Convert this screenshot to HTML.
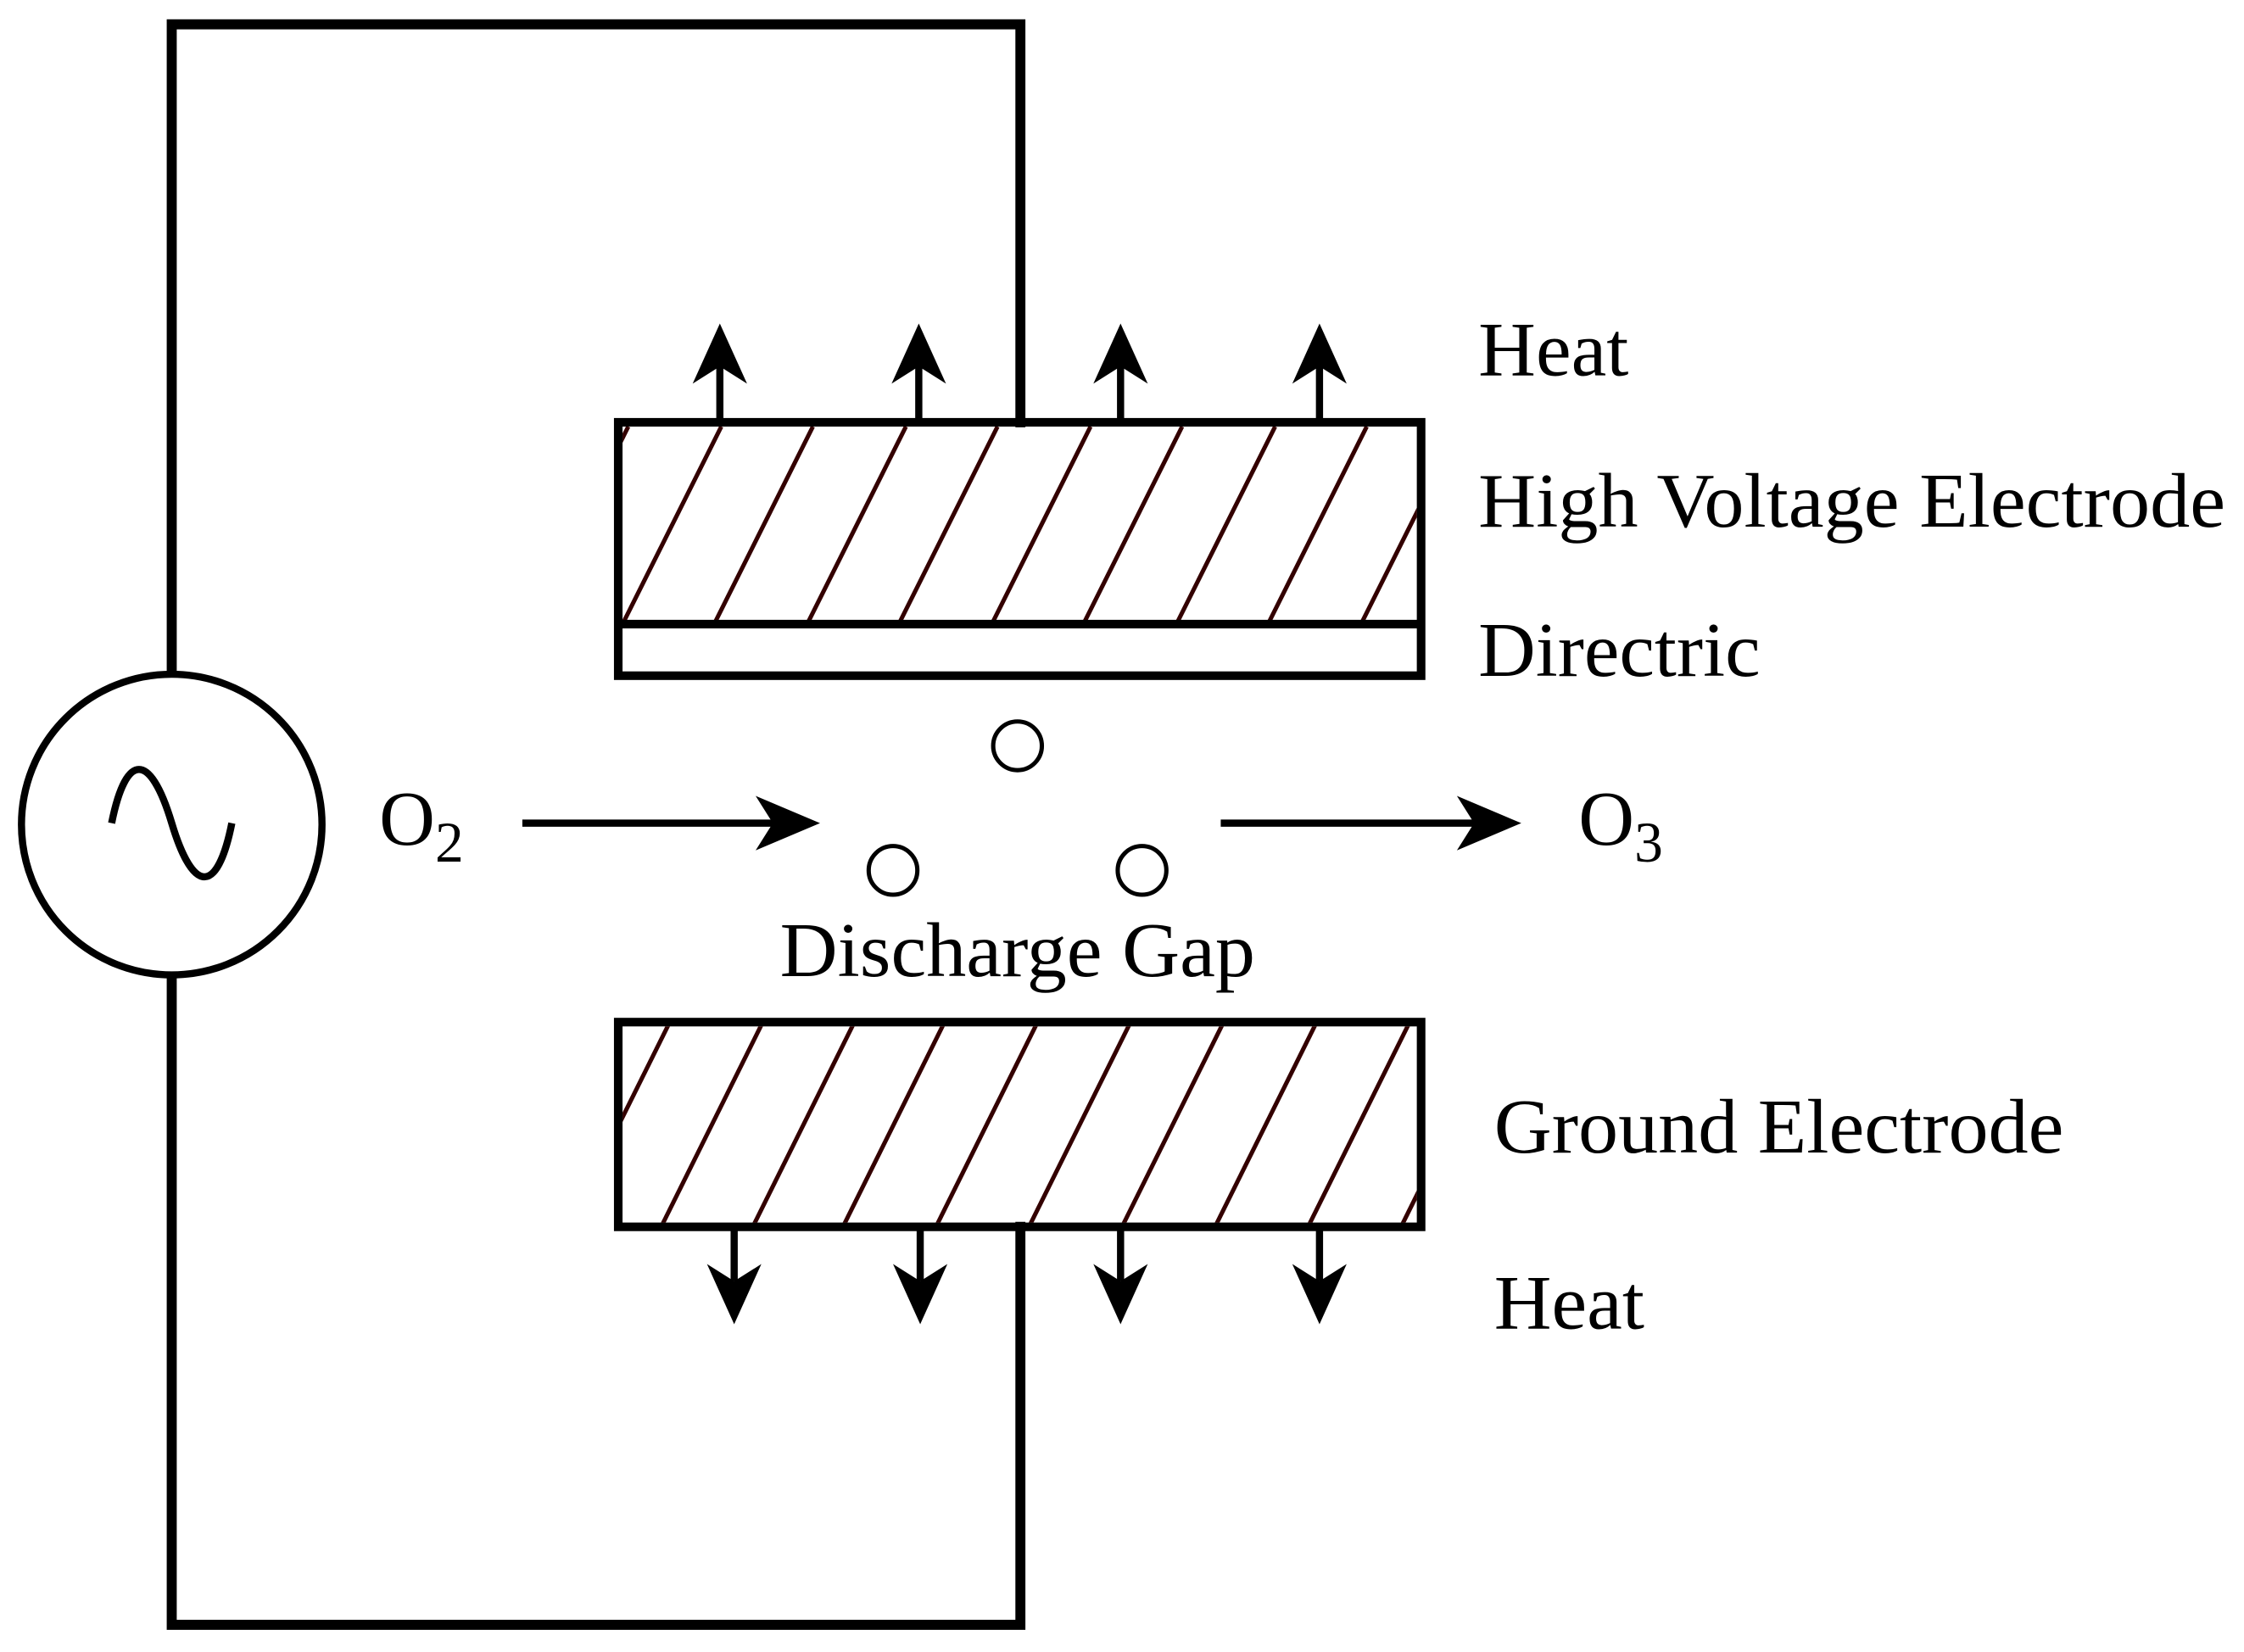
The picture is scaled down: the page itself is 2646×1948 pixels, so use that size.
<!DOCTYPE html>
<html><head><meta charset="utf-8"><style>
html,body{margin:0;padding:0;background:#fff;}
svg{display:block;}
text{font-family:"Liberation Serif","Times New Roman",serif;fill:#000;}
</style></head><body>
<svg width="2646" height="1948" viewBox="0 0 1568 1154" preserveAspectRatio="none" xmlns="http://www.w3.org/2000/svg">
<defs>
<clipPath id="c1"><rect x="435" y="298" width="555" height="138"/></clipPath>
<clipPath id="c2"><rect x="435" y="717" width="555" height="137"/></clipPath>
</defs>
<g fill="none" stroke="#000" stroke-width="7" stroke-linecap="square">
<polyline points="120,468 120,17 713,17 713,295"/>
<polyline points="120,683 120,1135 713,1135 713,857"/>
</g>
<circle cx="120" cy="576" r="105" fill="none" stroke="#000" stroke-width="5"/>
<path d="M78,575 C88,525 105,525 120,575 C135,625 152,625 162,575" fill="none" stroke="#000" stroke-width="5"/>
<g clip-path="url(#c1)" stroke="#300" stroke-width="3">
<line x1="370" y1="436" x2="439" y2="298"/><line x1="435" y1="436" x2="504" y2="298"/>
<line x1="499" y1="436" x2="568" y2="298"/><line x1="564" y1="436" x2="633" y2="298"/>
<line x1="628" y1="436" x2="697" y2="298"/><line x1="693" y1="436" x2="762" y2="298"/>
<line x1="757" y1="436" x2="826" y2="298"/><line x1="822" y1="436" x2="891" y2="298"/>
<line x1="886" y1="436" x2="955" y2="298"/><line x1="951" y1="436" x2="1020" y2="298"/>
<line x1="1015" y1="436" x2="1084" y2="298"/>
</g>
<g clip-path="url(#c2)" stroke="#300" stroke-width="3">
<line x1="333" y1="857" x2="404" y2="714"/><line x1="397" y1="857" x2="468" y2="714"/>
<line x1="462" y1="857" x2="533" y2="714"/><line x1="526" y1="857" x2="597" y2="714"/>
<line x1="589" y1="857" x2="660" y2="714"/><line x1="654" y1="857" x2="725" y2="714"/>
<line x1="719" y1="857" x2="790" y2="714"/><line x1="784" y1="857" x2="855" y2="714"/>
<line x1="849" y1="857" x2="920" y2="714"/><line x1="914" y1="857" x2="985" y2="714"/>
<line x1="979" y1="857" x2="1050" y2="714"/>
</g>
<g fill="none" stroke="#000" stroke-width="6">
<rect x="432" y="295" width="561" height="177"/>
<line x1="432" y1="436" x2="993" y2="436"/>
<rect x="432" y="714" width="561" height="143"/>
</g>
<g stroke="#000" stroke-width="5">
<line x1="503" y1="295" x2="503" y2="255"/><line x1="642" y1="295" x2="642" y2="255"/>
<line x1="783" y1="295" x2="783" y2="255"/><line x1="922" y1="295" x2="922" y2="255"/>
<line x1="513" y1="857" x2="513" y2="895"/><line x1="643" y1="857" x2="643" y2="895"/>
<line x1="783" y1="857" x2="783" y2="895"/><line x1="922" y1="857" x2="922" y2="895"/>
<line x1="365" y1="575" x2="545" y2="575"/><line x1="853" y1="575" x2="1035" y2="575"/>
</g>
<g fill="#000">
<path d="M503,226 L522,268 L503,256 L484,268 Z"/><path d="M642,226 L661,268 L642,256 L623,268 Z"/>
<path d="M783,226 L802,268 L783,256 L764,268 Z"/><path d="M922,226 L941,268 L922,256 L903,268 Z"/>
<path d="M513,925 L532,883 L513,895 L494,883 Z"/><path d="M643,925 L662,883 L643,895 L624,883 Z"/>
<path d="M783,925 L802,883 L783,895 L764,883 Z"/><path d="M922,925 L941,883 L922,895 L903,883 Z"/>
<path d="M573,575 L528,556 L540,575 L528,594 Z"/><path d="M1063,575 L1018,556 L1030,575 L1018,594 Z"/>
</g>
<g fill="none" stroke="#000" stroke-width="3">
<circle cx="711" cy="521" r="17"/><circle cx="624" cy="608" r="17"/><circle cx="798" cy="608" r="17"/>
</g>
<g font-size="54">
<text x="1033" y="262" textLength="105" lengthAdjust="spacingAndGlyphs">Heat</text>
<text x="1033" y="368" textLength="522" lengthAdjust="spacingAndGlyphs">High Voltage Electrode</text>
<text x="1033" y="472" textLength="197" lengthAdjust="spacingAndGlyphs">Directric</text>
<text x="545" y="682" textLength="332" lengthAdjust="spacingAndGlyphs">Discharge Gap</text>
<text x="1044" y="805" textLength="398" lengthAdjust="spacingAndGlyphs">Ground Electrode</text>
<text x="1044" y="928" textLength="105" lengthAdjust="spacingAndGlyphs">Heat</text>
<text x="265" y="590">O<tspan font-size="40" dy="12">2</tspan></text>
<text x="1103" y="590">O<tspan font-size="40" dy="12">3</tspan></text>
</g>
</svg>
</body></html>
